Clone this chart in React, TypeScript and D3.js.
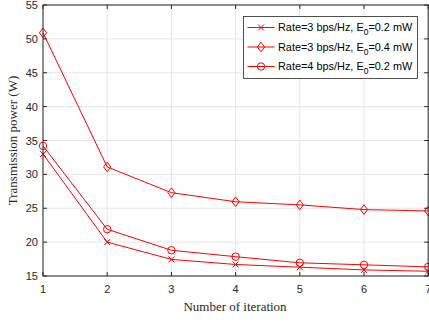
import React from "react";
import * as d3 from "d3";

const iterations = [1, 2, 3, 4, 5, 6, 7];
const seriesX = [33.0, 20.0, 17.45, 16.7, 16.3, 15.9, 15.7];
const seriesDiamond = [50.9, 31.1, 27.3, 25.96, 25.5, 24.8, 24.6];
const seriesCircle = [34.2, 21.9, 18.8, 17.85, 16.95, 16.65, 16.35];
const yTicks = [15, 20, 25, 30, 35, 40, 45, 50, 55];
const legendRates = ["3", "3", "4"];
const legendE0 = ["0.2", "0.4", "0.2"];

const W = 429, H = 322;
const L = 43, R = 428.2, T = 5, B = 276;

export default function App() {
  const x = d3.scaleLinear().domain([1, 7]).range([L, R]);
  const y = d3.scaleLinear().domain([15, 55]).range([B, T]);
  const line = d3.line<number>().x((_, i) => x(iterations[i])).y((d) => y(d));
  const red = "#ff0000";
  const axisColor = "#262626";
  const marker = (kind: string, cx: number, cy: number, key: string) => {
    if (kind === "x") {
      const s = 3;
      return (
        <path key={key} d={`M${cx - s},${cy - s}L${cx + s},${cy + s}M${cx - s},${cy + s}L${cx + s},${cy - s}`} stroke={red} strokeWidth={1} fill="none" />
      );
    }
    if (kind === "d") {
      const w = 3.6, h = 4.8;
      return (
        <path key={key} d={`M${cx},${cy - h}L${cx + w},${cy}L${cx},${cy + h}L${cx - w},${cy}Z`} stroke={red} strokeWidth={1} fill="none" />
      );
    }
    return <circle key={key} cx={cx} cy={cy} r={3.7} stroke={red} strokeWidth={1} fill="none" />;
  };
  const series = [
    { data: seriesX, kind: "x" },
    { data: seriesDiamond, kind: "d" },
    { data: seriesCircle, kind: "o" },
  ];
  return (
    <svg width={W} height={H} style={{ position: "absolute", left: 0, top: 0 }}>
      <rect x={0} y={0} width={W} height={H} fill="#fff" />
      {/* grid */}
      {iterations.map((v) => (
        <line key={"gx" + v} x1={x(v)} x2={x(v)} y1={T} y2={B} stroke="#e6e6e6" strokeWidth={1} />
      ))}
      {yTicks.map((v) => (
        <line key={"gy" + v} x1={L} x2={R} y1={y(v)} y2={y(v)} stroke="#e6e6e6" strokeWidth={1} />
      ))}
      {/* lines */}
      {series.map((s, si) => (
        <g key={"s" + si}>
          <path d={line(s.data) || ""} stroke={red} strokeWidth={1} fill="none" />
          {s.data.map((d, i) => marker(s.kind, x(iterations[i]), y(d), `m${si}-${i}`))}
        </g>
      ))}
      {/* axes box */}
      <rect x={L} y={T} width={R - L} height={B - T} fill="none" stroke={axisColor} strokeWidth={1} />
      {iterations.map((v) => (
        <g key={"tx" + v}>
          <line x1={x(v)} x2={x(v)} y1={B} y2={B - 4} stroke={axisColor} />
          <line x1={x(v)} x2={x(v)} y1={T} y2={T + 4} stroke={axisColor} />
          <text x={x(v)} y={293} textAnchor="middle" fontFamily="Liberation Sans, Arial, sans-serif" fontSize={11} fill={axisColor}>
            {v}
          </text>
        </g>
      ))}
      {yTicks.map((v) => (
        <g key={"ty" + v}>
          <line x1={L} x2={L + 4} y1={y(v)} y2={y(v)} stroke={axisColor} />
          <line x1={R} x2={R - 4} y1={y(v)} y2={y(v)} stroke={axisColor} />
          <text x={38} y={y(v) + 4} textAnchor="end" fontFamily="Liberation Sans, Arial, sans-serif" fontSize={11} fill={axisColor}>
            {v}
          </text>
        </g>
      ))}
      <text x={235} y={311} textAnchor="middle" fontFamily="Liberation Serif, Times New Roman, serif" fontSize={13} fill={axisColor}>
        Number of iteration
      </text>
      <text transform={`translate(17,${(T + B) / 2}) rotate(-90)`} textAnchor="middle" fontFamily="Liberation Serif, Times New Roman, serif" fontSize={13} fill={axisColor}>
        Transmission power (W)
      </text>
      {/* legend */}
      <rect x={243.5} y={16.5} width={174} height={62} fill="#fff" stroke={axisColor} strokeWidth={0.8} />
      {series.map((s, i) => {
        const ly = 27.5 + i * 19.5;
        return (
          <g key={"l" + i}>
            <line x1={247.5} x2={274.5} y1={ly} y2={ly} stroke={red} strokeWidth={1} />
            {marker(s.kind, 261, ly, "lm" + i)}
            <text x={278} y={ly + 3.5} fontFamily="Liberation Sans, Arial, sans-serif" fontSize={10.9} fill="#000">
              {`Rate=${legendRates[i]} bps/Hz, E`}
              <tspan dy={4} fontSize={8.5}>0</tspan>
              <tspan dy={-4}>{`=${legendE0[i]} mW`}</tspan>
            </text>
          </g>
        );
      })}
    </svg>
  );
}
